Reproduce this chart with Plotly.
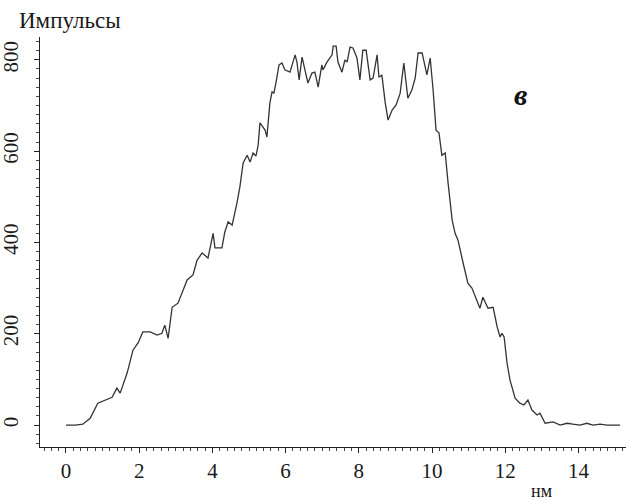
import plotly.graph_objects as go

# Spectrum profile: distance (nm) vs counts
distance_nm = [
    0.00, 0.25, 0.46, 0.66, 0.87, 1.07, 1.26, 1.39, 1.48, 1.67, 1.83, 1.97,
    2.10, 2.30, 2.49, 2.62, 2.70, 2.79, 2.90, 3.06, 3.17, 3.31, 3.47, 3.58,
    3.72, 3.88, 4.02, 4.07, 4.26, 4.34, 4.43, 4.54, 4.67, 4.75, 4.84, 4.95,
    5.03, 5.11, 5.19, 5.25, 5.30, 5.44, 5.49, 5.57, 5.63, 5.68, 5.74, 5.82,
    5.90, 5.98, 6.12, 6.20, 6.26, 6.31, 6.37, 6.45, 6.53, 6.61, 6.72, 6.80,
    6.89, 6.99, 7.02, 7.13, 7.27, 7.30, 7.38, 7.43, 7.54, 7.62, 7.68, 7.76,
    7.84, 7.95, 8.03, 8.11, 8.20, 8.25, 8.31, 8.39, 8.50, 8.55, 8.63, 8.72,
    8.80, 8.91, 9.02, 9.13, 9.23, 9.34, 9.45, 9.54, 9.62, 9.73, 9.86, 9.95,
    10.03, 10.11, 10.19, 10.27, 10.36, 10.44, 10.49, 10.55, 10.63, 10.71,
    10.85, 10.98, 11.09, 11.17, 11.31, 11.39, 11.53, 11.67, 11.78, 11.86,
    11.91, 11.97, 12.05, 12.13, 12.27, 12.40, 12.51, 12.62, 12.73, 12.87,
    12.95, 13.09, 13.31, 13.50, 13.69, 13.85, 14.04, 14.23, 14.40, 14.59,
    14.78, 14.97, 15.14,
]
counts = [
    0, 0, 2, 15, 48, 55, 61, 81, 70, 114, 164, 180,
    204, 204, 197, 201, 219, 190, 258, 267, 291, 318, 329, 361,
    377, 366, 420, 388, 388, 423, 445, 438, 486, 521, 574, 591,
    576, 596, 589, 613, 662, 646, 631, 705, 730, 727, 751, 789,
    793, 778, 773, 795, 811, 795, 756, 806, 778, 749, 771, 773,
    740, 789, 778, 795, 811, 830, 830, 795, 773, 800, 795, 828,
    826, 804, 756, 821, 821, 793, 756, 760, 811, 762, 767, 707,
    668, 690, 701, 727, 793, 716, 734, 760, 815, 815, 767, 804,
    734, 646, 640, 591, 596, 530, 493, 449, 420, 405,
    355, 311, 300, 285, 256, 280, 256, 258, 215, 193,
    201, 193, 136, 99, 59, 48, 44, 55, 33, 22,
    26, 4, 7, 0, 4, 2, 0, 4, 0, 2,
    0, 0, 0,
]

x_ticks = [0, 2, 4, 6, 8, 10, 12, 14]
y_ticks = [0, 200, 400, 600, 800]

serif = "Liberation Serif"

fig = go.Figure()
fig.add_trace(go.Scatter(
    x=distance_nm, y=counts, mode="lines",
    line=dict(color="#333333", width=1.3),
    showlegend=False, hoverinfo="skip",
))

fig.update_layout(
    width=626, height=502,
    margin=dict(l=40, r=0, t=37, b=55),
    paper_bgcolor="white", plot_bgcolor="white",
    font=dict(family=serif, color="#1a1a1a", size=20),
    xaxis=dict(
        range=[-0.71, 15.3], tickvals=x_ticks,
        ticktext=[str(v) for v in x_ticks],
        showgrid=False, zeroline=False,
        showline=True, linecolor="#222", linewidth=1,
        ticks="outside", ticklen=5, tickcolor="#222",
        minor=dict(dtick=0.2, tick0=0, ticks="outside", ticklen=3, tickcolor="#444"),
        tickfont=dict(family=serif, size=21),
    ),
    yaxis=dict(
        range=[-48, 850], tickvals=y_ticks,
        ticktext=[str(v) for v in y_ticks],
        showgrid=False, zeroline=False,
        showline=True, linecolor="#222", linewidth=1,
        ticks="outside", ticklen=5, tickcolor="#222",
        minor=dict(dtick=20, tick0=0, ticks="outside", ticklen=3, tickcolor="#444"),
        tickangle=-90, ticklabelstandoff=8,
        tickfont=dict(family=serif, size=21),
    ),
)

fig.add_annotation(
    text="Импульсы", xref="paper", yref="paper", x=-0.04, y=1.0,
    xanchor="left", yanchor="bottom", yshift=2, showarrow=False,
    font=dict(family=serif, size=23, color="#1a1a1a"),
)
fig.add_annotation(
    text="нм", xref="paper", yref="paper", x=0.855, y=0,
    xanchor="center", yanchor="top", yshift=-32, showarrow=False,
    font=dict(family=serif, size=18, color="#1a1a1a"),
)
fig.add_annotation(
    text="<b><i>в</i></b>", xref="paper", yref="paper", x=0.82, y=0.86,
    xanchor="center", yanchor="middle", showarrow=False,
    font=dict(family=serif, size=30, color="#111"),
)

fig.write_html("out.html")
